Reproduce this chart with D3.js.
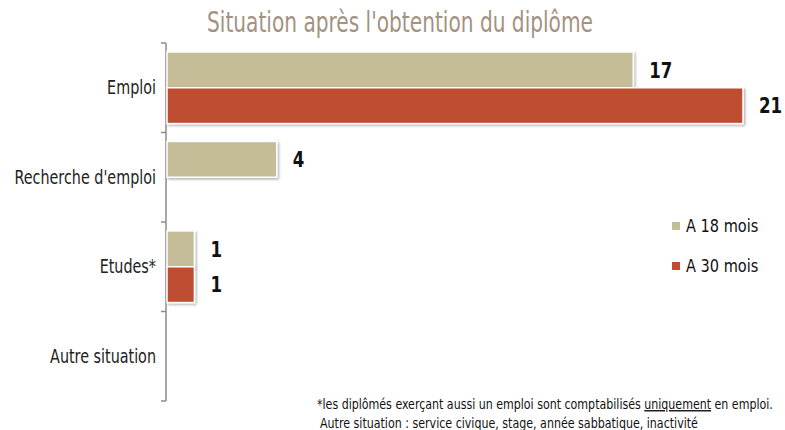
<!DOCTYPE html>
<html>
<head>
<meta charset="utf-8">
<script src="https://cdn.jsdelivr.net/npm/d3@7"></script>
<style>
  body { margin: 0; background: #fff; }
  svg text { font-family: "DejaVu Sans Condensed", "DejaVu Sans", sans-serif; }
</style>
</head>
<body>
<div id="chart"></div>
<script>
// ---------- data ----------
const categories = ["Emploi", "Recherche d'emploi", "Etudes*", "Autre situation"];
const seriesNames = ["A 18 mois", "A 30 mois"];
const values18 = [17, 4, 1, 0];
const values30 = [21, 0, 1, 0];
const colors = ["#C5BD98", "#BE4D30"];

const width = 785, height = 430;
const margin = { top: 43, left: 167, bottom: 29 };

const svg = d3.select("#chart").append("svg")
  .attr("width", width).attr("height", height);

// narrow look of the original font: squeeze text horizontally around its anchor
const place = (sel, px, py, k) => sel.attr("transform", `translate(${px},${py}) scale(${k},1)`);

// soft drop shadow under bars
const defs = svg.append("defs");
const f = defs.append("filter").attr("id", "shadow")
  .attr("x", "-5%").attr("y", "-20%").attr("width", "115%").attr("height", "150%");
f.append("feDropShadow").attr("dx", 1.5).attr("dy", 1.5).attr("stdDeviation", 1.2)
  .attr("flood-color", "#000").attr("flood-opacity", 0.3);

// ---------- scales ----------
const y = d3.scaleBand().domain(categories)
  .range([margin.top, height - margin.bottom]).paddingInner(0.2).paddingOuter(0.1);
const yInner = d3.scaleBand().domain(seriesNames).range([0, y.bandwidth()]);
const x = d3.scaleLinear().domain([0, 21]).range([margin.left, 743]);

// ---------- title ----------
svg.append("text")
  .attr("text-anchor", "middle")
  .style("font-size", "28px")
  .style("fill", "#A39282")
  .text("Situation après l'obtention du diplôme")
  .call(place, 400, 32, 0.8);

// ---------- axis ----------
const yAxisScale = d3.scalePoint().domain(d3.range(categories.length + 1))
  .range([margin.top, height - margin.bottom]);
const axisG = svg.append("g");
axisG.append("line")
  .attr("x1", margin.left - 1).attr("x2", margin.left - 1)
  .attr("y1", margin.top).attr("y2", height - margin.bottom)
  .attr("stroke", "#8c8c8c").attr("stroke-width", 1.5);
axisG.selectAll(".tick").data(yAxisScale.domain()).join("line")
  .attr("x1", margin.left - 6).attr("x2", margin.left - 1)
  .attr("y1", d => yAxisScale(d)).attr("y2", d => yAxisScale(d))
  .attr("stroke", "#8c8c8c").attr("stroke-width", 1.5);

const catStep = (height - margin.bottom - margin.top) / categories.length;
svg.selectAll(".cat").data(categories).join("text")
  .attr("dy", "0.35em")
  .attr("text-anchor", "end")
  .style("font-size", "19px")
  .style("fill", "#222")
  .text(d => d)
  .each(function(d, i) {
    d3.select(this).call(place, 156, margin.top + catStep * (i + 0.5), 0.84);
  });

// ---------- bars ----------
const rows = [];
categories.forEach((c, i) => {
  rows.push({ cat: c, s: seriesNames[0], v: values18[i], col: colors[0] });
  rows.push({ cat: c, s: seriesNames[1], v: values30[i], col: colors[1] });
});
const bars = rows.filter(d => d.v > 0);

svg.append("g").selectAll("rect").data(bars).join("rect")
  .attr("x", x(0))
  .attr("y", d => y(d.cat) + yInner(d.s))
  .attr("width", d => x(d.v) - x(0))
  .attr("height", yInner.bandwidth())
  .attr("fill", d => d.col)
  .attr("stroke", "#fff").attr("stroke-width", 1.5)
  .attr("filter", "url(#shadow)");

svg.append("g").selectAll("text").data(bars).join("text")
  .attr("dy", "0.35em")
  .style("font-size", "22px")
  .style("font-weight", "bold")
  .style("fill", "#111")
  .text(d => d.v)
  .each(function(d) {
    d3.select(this).call(place, x(d.v) + 16, y(d.cat) + yInner(d.s) + yInner.bandwidth() / 2, 0.84);
  });

// ---------- legend ----------
const leg = svg.append("g").selectAll("g").data(seriesNames).join("g")
  .attr("transform", (d, i) => `translate(672, ${226 + i * 40})`);
leg.append("rect").attr("x", 0).attr("y", -4).attr("width", 8).attr("height", 8)
  .attr("fill", (d, i) => colors[i]);
leg.append("text").attr("dy", "0.35em")
  .style("font-size", "17px").style("fill", "#111").text(d => d)
  .call(place, 14, 0, 0.95);

// ---------- footnote ----------
const foot = svg.append("text")
  .style("font-size", "14px").style("fill", "#111")
  .call(place, 317, 409, 0.878);
foot.append("tspan").text("*les diplômés exerçant aussi un emploi sont comptabilisés ");
foot.append("tspan").style("text-decoration", "underline").text("uniquement");
foot.append("tspan").text(" en emploi.");
svg.append("text")
  .style("font-size", "14px").style("fill", "#111")
  .text("Autre situation : service civique, stage, année sabbatique, inactivité")
  .call(place, 320, 428, 0.88);
</script>
</body>
</html>
